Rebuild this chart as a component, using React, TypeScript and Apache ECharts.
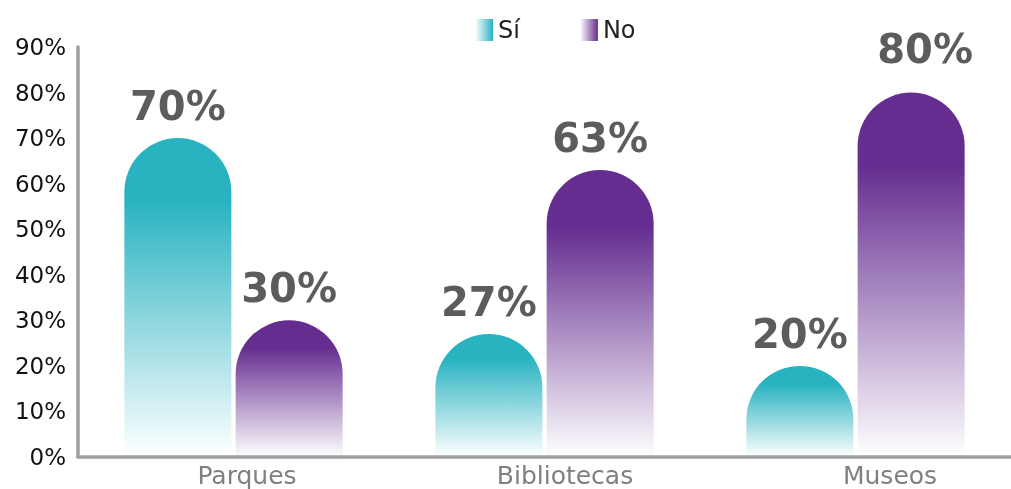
import React, { useEffect, useRef } from "react";
import * as echarts from "echarts";

const categories = ["Parques", "Bibliotecas", "Museos"];
const siValues = [70, 27, 20];
const noValues = [30, 63, 80];
const yTicks = [0, 10, 20, 30, 40, 50, 60, 70, 80, 90];
const labelShift = [27, 41, 69];

const TEAL = "#29b3c1";
const PURPLE = "#652d90";

function vGrad(c: string, rgb: string) {
  return new echarts.graphic.LinearGradient(0, 0, 0, 1, [
    { offset: 0, color: c },
    { offset: 0.2, color: c },
    { offset: 0.6, color: `rgba(${rgb},0.5)` },
    { offset: 1, color: `rgba(${rgb},0.0)` },
  ]);
}
function hGrad(rgb: string) {
  return new echarts.graphic.LinearGradient(0, 0, 1, 0, [
    { offset: 0, color: `rgba(${rgb},0)` },
    { offset: 1, color: `rgba(${rgb},1)` },
  ]);
}

export default function App() {
  const ref = useRef<HTMLDivElement>(null);
  useEffect(() => {
    if (!ref.current) return;
    const chart = echarts.init(ref.current, null, { renderer: "svg" });
    const font = "DejaVu Sans";
    const rich: any = {};
    labelShift.forEach((s, i) => {
      rich["c" + i] = {
        padding: [0, 0, 0, s],
        fontSize: 25,
        lineHeight: 26,
        color: "#808080",
        fontFamily: font,
      };
    });
    const dataLabel = {
      show: true,
      position: "top",
      distance: 12,
      formatter: "{c}%",
      fontSize: 40,
      fontWeight: "bold",
      color: "#5c5c5c",
      fontFamily: font,
    };
    const noData = noValues.map((v, i) =>
      i === 2 ? { value: v, label: { offset: [14, -12] } } : v
    );
    chart.setOption({
      animation: false,
      textStyle: { fontFamily: font },
      legend: {
        top: 13,
        left: 470,
        itemWidth: 18,
        itemHeight: 22,
        itemGap: 60,
        icon: "rect",
        textStyle: { fontSize: 24, color: "#222", fontFamily: font },
        data: [
          { name: "Sí", itemStyle: { color: hGrad("41,179,193") } },
          { name: "No", itemStyle: { color: hGrad("101,45,144") } },
        ],
      },
      grid: { left: 78, right: -3, top: 47, bottom: 32 },
      xAxis: {
        type: "category",
        data: categories,
        axisLine: { lineStyle: { color: "#a0a0a0", width: 3.5 } },
        axisTick: { show: false },
        axisLabel: {
          margin: 5,
          formatter: (v: string, i: number) => `{c${i}|${v}}`,
          rich,
        },
      },
      yAxis: {
        type: "value",
        min: 0,
        max: 90,
        interval: 10,
        splitLine: { show: false },
        axisTick: { show: false },
        axisLine: { show: true, lineStyle: { color: "#a0a0a0", width: 3.5 } },
        axisLabel: {
          formatter: (v: number) => (yTicks.includes(v) ? v + "%" : ""),
          fontSize: 23,
          color: "#111",
          margin: 12,
          fontFamily: font,
        },
      },
      series: [
        {
          name: "Sí",
          type: "bar",
          data: siValues,
          barWidth: 107,
          barGap: "4%",
          itemStyle: { color: vGrad(TEAL, "41,179,193"), borderRadius: [54, 54, 0, 0] },
          label: dataLabel,
        },
        {
          name: "No",
          type: "bar",
          data: noData,
          barWidth: 107,
          itemStyle: { color: vGrad(PURPLE, "101,45,144"), borderRadius: [54, 54, 0, 0] },
          label: dataLabel,
        },
      ],
    });
    return () => chart.dispose();
  }, []);
  return (
    <div
      ref={ref}
      style={{ position: "fixed", top: 0, left: 0, width: 1011, height: 489 }}
    />
  );
}
